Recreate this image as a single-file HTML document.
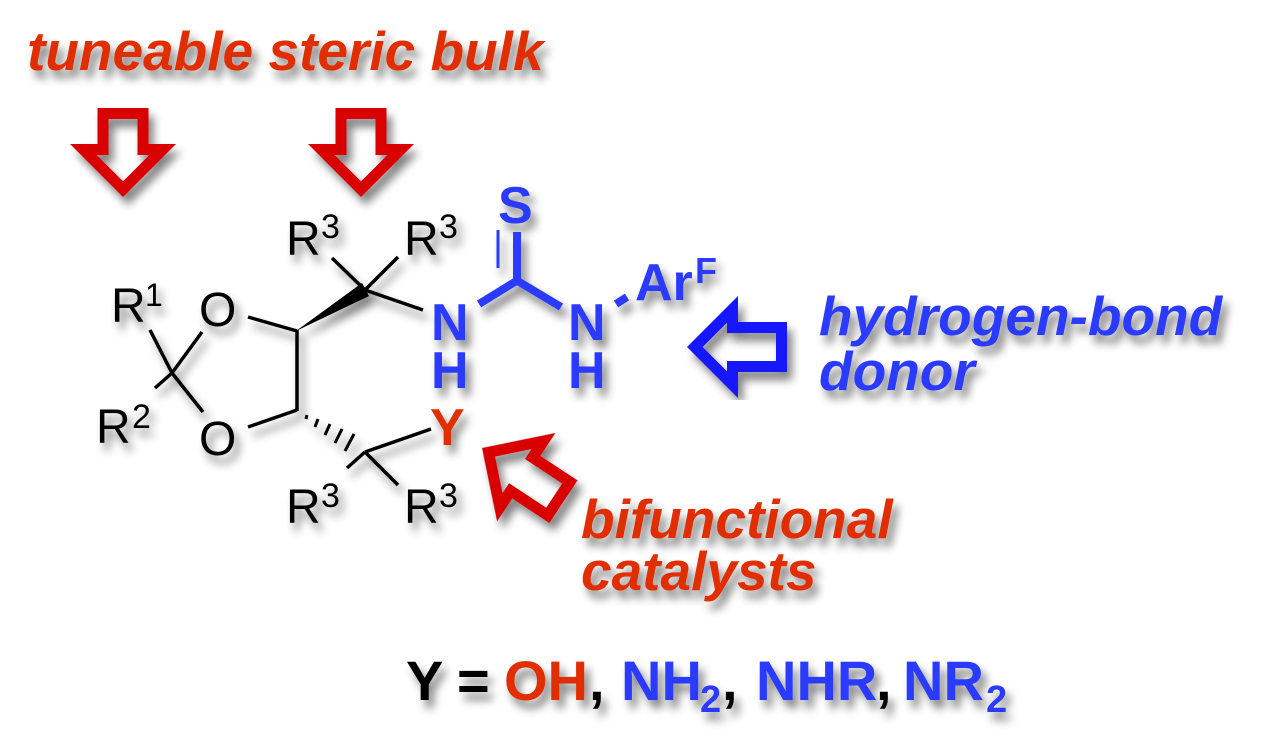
<!DOCTYPE html>
<html>
<head>
<meta charset="utf-8">
<style>
  html, body { margin: 0; padding: 0; background: #ffffff; }
  svg { display: block; }
  text { font-family: "Liberation Sans", Arial, sans-serif; }
</style>
</head>
<body>
<svg width="1266" height="750" viewBox="0 0 1266 750" xmlns="http://www.w3.org/2000/svg">
  <defs>
    <filter id="sh" x="-20%" y="-20%" width="140%" height="140%">
      <feGaussianBlur in="SourceAlpha" stdDeviation="4.5"/>
      <feOffset dx="5" dy="8" result="o"/>
      <feComponentTransfer><feFuncA type="linear" slope="0.5"/></feComponentTransfer>
      <feMerge><feMergeNode/><feMergeNode in="SourceGraphic"/></feMerge>
    </filter>
  </defs>

  <!-- Title -->
  <g filter="url(#sh)">
    <text x="27" y="70" font-size="55" font-weight="bold" font-style="italic" fill="#e02d00">tuneable steric bulk</text>
  </g>

  <!-- Red down arrows -->
  <g filter="url(#sh)" fill="none" stroke="#d80000" stroke-width="11" stroke-linejoin="miter" stroke-miterlimit="10">
    <polygon transform="translate(123,197)" points="-20,-83.5 20,-83.5 20,-47.5 39.7,-47.5 0,-7.8 -39.7,-47.5 -20,-47.5"/>
    <polygon transform="translate(361,197)" points="-20,-83.5 20,-83.5 20,-47.5 39.7,-47.5 0,-7.8 -39.7,-47.5 -20,-47.5"/>
    <!-- bifunctional arrow -->
    <polygon transform="translate(482,448) rotate(123.4)" points="-20,-92 20,-92 20,-47.5 39.7,-47.5 0,-7.8 -39.7,-47.5 -20,-47.5"/>
  </g>

  <!-- Blue left arrow -->
  <g filter="url(#sh)" fill="none" stroke="#1414ff" stroke-width="11" stroke-linejoin="miter" stroke-miterlimit="10">
    <polygon transform="translate(687,347) rotate(90)" points="-19.5,-94.5 19.5,-94.5 19.5,-45.5 37.7,-45.5 0,-7.8 -37.7,-45.5 -19.5,-45.5"/>
  </g>

  <!-- Molecule: black part -->
  <g filter="url(#sh)">
    <g stroke="#000" stroke-width="3.5" stroke-linecap="butt" fill="none">
      <line x1="172" y1="373" x2="150" y2="330"/>
      <line x1="172" y1="373" x2="202" y2="332"/>
      <line x1="172" y1="373" x2="155" y2="388"/>
      <line x1="172" y1="373" x2="203" y2="412"/>
      <line x1="248" y1="317" x2="297" y2="331"/>
      <line x1="297" y1="330" x2="297" y2="411"/>
      <line x1="248" y1="427" x2="297" y2="410"/>
      <line x1="365" y1="290" x2="332" y2="258"/>
      <line x1="365" y1="290" x2="398" y2="257"/>
      <line x1="365" y1="290" x2="423" y2="310"/>
      <line x1="365" y1="452" x2="347" y2="468"/>
      <line x1="365" y1="452" x2="398" y2="485"/>
      <line x1="365" y1="452" x2="431" y2="429"/>
    </g>
    <!-- wedge -->
    <polygon points="296,331 362,283 369,296" fill="#000"/>
    <!-- hashed wedge -->
    <g stroke="#000" stroke-width="3">
      <line x1="307" y1="415" x2="306" y2="419"/>
      <line x1="318" y1="419" x2="315" y2="427"/>
      <line x1="330" y1="424" x2="325" y2="435"/>
      <line x1="342" y1="429" x2="335" y2="443"/>
      <line x1="354" y1="434" x2="345" y2="451"/>
    </g>

    <g fill="#000" font-size="48">
      <text x="111" y="322">R</text>
      <text x="145" y="306" font-size="32">1</text>
      <text x="96" y="443">R</text>
      <text x="132" y="428" font-size="34">2</text>
      <text x="199" y="326">O</text>
      <text x="199" y="455">O</text>
      <text x="286" y="255">R</text>
      <text x="321" y="238" font-size="34">3</text>
      <text x="404" y="255">R</text>
      <text x="439" y="238" font-size="34">3</text>
      <text x="286" y="523">R</text>
      <text x="321" y="507" font-size="34">3</text>
      <text x="404" y="523">R</text>
      <text x="439" y="507" font-size="34">3</text>
    </g>
    <text x="430" y="445" font-size="52" font-weight="bold" fill="#e02d00">Y</text>
  </g>

  <!-- Thiourea (blue) -->
  <g filter="url(#sh)">
    <g stroke="#2b3bff" fill="none">
      <line x1="517" y1="282" x2="517" y2="232" stroke-width="8"/>
      <line x1="498" y1="230" x2="498" y2="268" stroke-width="3"/>
      <line x1="518" y1="280" x2="479" y2="304" stroke-width="8"/>
      <line x1="516" y1="280" x2="561" y2="307" stroke-width="8"/>
      <line x1="616" y1="304" x2="627" y2="297" stroke-width="8"/>
    </g>
    <g fill="#2b3bff" font-weight="bold" font-size="52">
      <text x="498" y="223">S</text>
      <text x="431" y="340">N</text>
      <text x="431" y="388">H</text>
      <text x="568" y="340">N</text>
      <text x="568" y="388">H</text>
      <text x="635" y="300">Ar</text>
      <text x="695" y="283" font-size="36">F</text>
    </g>
  </g>

  <!-- Right labels -->
  <g filter="url(#sh)" font-size="55" font-weight="bold" font-style="italic">
    <text x="819" y="335" fill="#2b3bff">hydrogen-bond</text>
    <text x="819" y="390" fill="#2b3bff">donor</text>
    <text x="581" y="538" fill="#e02d00">bifunctional</text>
    <text x="581" y="590" fill="#e02d00">catalysts</text>
  </g>

  <!-- Bottom line -->
  <g filter="url(#sh)" font-size="56" font-weight="bold">
    <text x="406" y="700" fill="#000">Y</text>
    <text x="457" y="700" fill="#000">=</text>
    <text x="504" y="700" fill="#e02d00">OH</text>
    <text x="589" y="700" fill="#000">,</text>
    <text x="621" y="700" fill="#2b3bff">NH</text>
    <text x="700" y="712" font-size="38" fill="#2b3bff">2</text>
    <text x="722" y="700" fill="#000">,</text>
    <text x="756" y="700" fill="#2b3bff">NHR</text>
    <text x="876" y="700" fill="#000">,</text>
    <text x="903" y="700" fill="#2b3bff">NR</text>
    <text x="986" y="712" font-size="38" fill="#2b3bff">2</text>
  </g>
</svg>
</body>
</html>
